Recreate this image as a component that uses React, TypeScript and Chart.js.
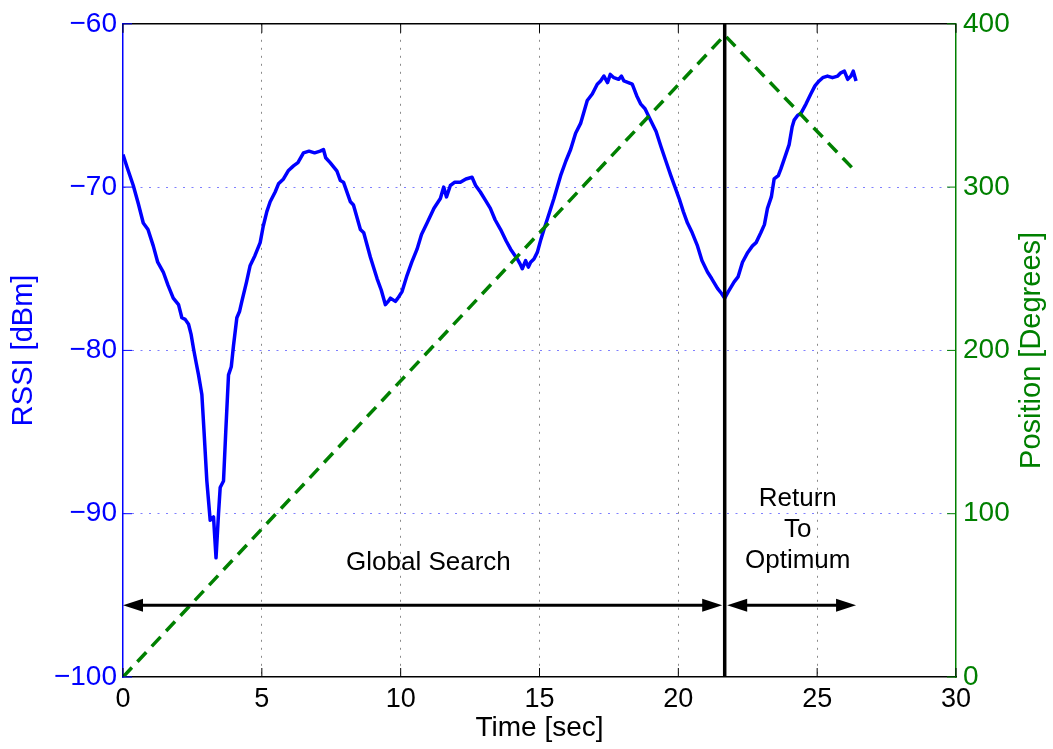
import React, { useEffect, useRef } from "react";
import { Chart, registerables } from "chart.js";

Chart.register(...registerables);

// ---------- data ----------
const timeSec = [
  0.0, 0.15, 0.37, 0.55, 0.73, 0.9, 1.09, 1.25, 1.45, 1.62, 1.81, 2.0, 2.12, 2.24, 2.36, 2.45, 2.54, 2.64, 2.72, 2.84,
  2.92, 3.02, 3.14, 3.26, 3.35, 3.44, 3.5, 3.62, 3.7, 3.8, 3.9, 3.98, 4.1, 4.2, 4.28, 4.45, 4.58, 4.75, 4.94, 5.05,
  5.18, 5.3, 5.48, 5.6, 5.78, 5.95, 6.14, 6.3, 6.5, 6.7, 6.9, 7.1, 7.22, 7.3, 7.46, 7.7, 7.83, 7.94, 8.19, 8.3,
  8.55, 8.67, 8.91, 9.15, 9.3, 9.45, 9.55, 9.63, 9.81, 9.9, 10.05, 10.23, 10.4, 10.59, 10.75, 10.95, 11.2, 11.43, 11.55, 11.65,
  11.79, 11.95, 12.15, 12.35, 12.57, 12.7, 12.87, 13.05, 13.23, 13.4, 13.6, 13.8, 13.96, 14.2, 14.3, 14.38, 14.5, 14.6, 14.68, 14.8,
  14.92, 15.05, 15.16, 15.35, 15.52, 15.76, 15.95, 16.12, 16.3, 16.48, 16.72, 16.9, 17.08, 17.2, 17.32, 17.45, 17.55, 17.68, 17.85, 17.95,
  18.04, 18.2, 18.34, 18.5, 18.64, 18.8, 19.0, 19.2, 19.37, 19.55, 19.73, 19.88, 20.03, 20.18, 20.33, 20.5, 20.69, 20.85, 21.05, 21.2,
  21.41, 21.55, 21.67, 21.8, 22.01, 22.15, 22.31, 22.5, 22.67, 22.8, 22.97, 23.1, 23.21, 23.35, 23.45, 23.6, 23.69, 23.85, 23.99, 24.1,
  24.17, 24.3, 24.41, 24.6, 24.77, 24.92, 25.07, 25.2, 25.37, 25.55, 25.74, 25.85, 25.98, 26.1, 26.22, 26.3, 26.4,
];
const rssiDbm = [
  -68.0, -68.8, -69.9, -71.0, -72.2, -72.6, -73.6, -74.6, -75.2, -76.0, -76.8, -77.2, -78.0, -78.1, -78.4, -79.0, -79.9, -80.8, -81.5, -82.7,
  -85.0, -88.0, -90.4, -90.2, -92.7, -90.0, -88.4, -88.0, -85.0, -81.5, -81.0, -79.7, -78.0, -77.6, -77.0, -75.8, -74.8, -74.2, -73.4, -72.4,
  -71.5, -70.9, -70.3, -69.8, -69.5, -69.0, -68.7, -68.5, -67.9, -67.8, -67.9, -67.8, -67.7, -68.2, -68.5, -69.0, -69.6, -69.7, -70.9, -71.1,
  -72.6, -72.8, -74.3, -75.6, -76.3, -77.2, -77.0, -76.8, -77.0, -76.8, -76.4, -75.4, -74.6, -73.8, -72.9, -72.2, -71.3, -70.7, -70.0, -70.6,
  -69.9, -69.7, -69.7, -69.5, -69.4, -69.9, -70.3, -70.8, -71.3, -72.0, -72.6, -73.3, -73.8, -74.4, -74.7, -75.0, -74.5, -74.9, -74.6, -74.4,
  -74.0, -73.2, -72.6, -71.6, -70.7, -69.3, -68.4, -67.7, -66.7, -66.1, -64.7, -64.3, -63.7, -63.5, -63.2, -63.6, -63.1, -63.3, -63.4, -63.2,
  -63.5, -63.6, -63.7, -64.4, -64.9, -65.2, -65.9, -66.6, -67.5, -68.4, -69.3, -70.0, -70.7, -71.5, -72.2, -72.8, -73.6, -74.5, -75.2, -75.6,
  -76.2, -76.5, -76.8, -76.4, -75.8, -75.5, -74.6, -74.0, -73.6, -73.4, -72.8, -72.3, -71.3, -70.6, -69.5, -69.3, -68.9, -68.1, -67.4, -66.3,
  -65.9, -65.6, -65.5, -64.9, -64.3, -63.8, -63.5, -63.3, -63.2, -63.3, -63.2, -63.0, -62.9, -63.4, -63.2, -62.9, -63.5,
];
const positionTime = [0, 21.67, 26.25];
const positionDeg = [0, 393, 312];

const switchTime = 21.67;
const arrowLevel = -95.6;
const arrowStarts = [0, 21.67];
const arrowEnds = [21.67, 26.4];
const noteTexts = ["Global Search", "Return", "To", "Optimum"];
const noteTimes = [11.0, 24.3, 24.3, 24.3];
const noteLevels = [-93.0, -89.1, -91.0, -92.9];

const FONT = "'Liberation Sans', Arial, Helvetica, sans-serif";
const BLUE = "#0000ff";
const GREEN = "#008000";

const fmtMinus = (v: number) => (v < 0 ? "\u2212" + Math.abs(v) : String(v));

const overlayPlugin = {
  id: "overlay",
  afterDatasetsDraw(chart: any) {
    const { ctx, chartArea: a, scales } = chart;
    const xs = scales.x;
    const ys = scales.y;
    ctx.save();
    // switch line
    const vx = xs.getPixelForValue(switchTime);
    ctx.strokeStyle = "#000";
    ctx.lineWidth = 3.5;
    ctx.beginPath();
    ctx.moveTo(vx, a.top);
    ctx.lineTo(vx, a.bottom);
    ctx.stroke();
    // arrows
    const ay = ys.getPixelForValue(arrowLevel);
    const head = (tip: number, dir: number) => {
      ctx.beginPath();
      ctx.moveTo(tip, ay);
      ctx.lineTo(tip + dir * 20, ay - 6.5);
      ctx.lineTo(tip + dir * 20, ay + 6.5);
      ctx.closePath();
      ctx.fill();
    };
    ctx.fillStyle = "#000";
    for (let i = 0; i < arrowStarts.length; i++) {
      const x0 = xs.getPixelForValue(arrowStarts[i]) + (i === 0 ? 0 : 2.5);
      const x1 = xs.getPixelForValue(arrowEnds[i]) - (i === 0 ? 2.5 : 0);
      ctx.lineWidth = 3;
      ctx.beginPath();
      ctx.moveTo(x0 + 10, ay);
      ctx.lineTo(x1 - 10, ay);
      ctx.stroke();
      head(x0, 1);
      head(x1, -1);
    }
    // notes
    ctx.font = `26px ${FONT}`;
    ctx.textAlign = "center";
    ctx.textBaseline = "middle";
    ctx.fillStyle = "#000";
    for (let i = 0; i < noteTexts.length; i++) {
      ctx.fillText(noteTexts[i], xs.getPixelForValue(noteTimes[i]), ys.getPixelForValue(noteLevels[i]));
    }
    ctx.restore();
  },
  afterDraw(chart: any) {
    const { ctx, chartArea: a, scales } = chart;
    const xs = scales.x;
    const ys = scales.y;
    const y2 = scales.y2;
    ctx.save();
    // top border
    ctx.strokeStyle = "#000";
    ctx.lineWidth = 1.5;
    ctx.beginPath();
    ctx.moveTo(a.left, a.top);
    ctx.lineTo(a.right, a.top);
    ctx.stroke();
    // inward ticks
    const L = 9;
    ctx.lineWidth = 1;
    ctx.strokeStyle = "#000";
    xs.ticks.forEach((t: any) => {
      const px = xs.getPixelForValue(t.value);
      ctx.beginPath();
      ctx.moveTo(px, a.bottom);
      ctx.lineTo(px, a.bottom - L);
      ctx.moveTo(px, a.top);
      ctx.lineTo(px, a.top + L);
      ctx.stroke();
    });
    ctx.strokeStyle = BLUE;
    ys.ticks.forEach((t: any) => {
      const py = ys.getPixelForValue(t.value);
      ctx.beginPath();
      ctx.moveTo(a.left, py);
      ctx.lineTo(a.left + L, py);
      ctx.stroke();
    });
    ctx.strokeStyle = GREEN;
    y2.ticks.forEach((t: any) => {
      const py = y2.getPixelForValue(t.value);
      ctx.beginPath();
      ctx.moveTo(a.right, py);
      ctx.lineTo(a.right - L, py);
      ctx.stroke();
    });
    // right axis title (reads bottom-to-top)
    ctx.translate(y2.right - 21, (a.top + a.bottom) / 2);
    ctx.rotate(-Math.PI / 2);
    ctx.font = `29px ${FONT}`;
    ctx.fillStyle = GREEN;
    ctx.textAlign = "center";
    ctx.textBaseline = "middle";
    ctx.fillText("Position [Degrees]", 0, 0);
    ctx.restore();
  },
};

export default function App() {
  const canvasRef = useRef<HTMLCanvasElement | null>(null);

  useEffect(() => {
    document.body.style.margin = "0";
    const canvas = canvasRef.current;
    if (!canvas) return;
    Chart.defaults.font.family = FONT;
    const chart = new Chart(canvas, {
      type: "line",
      data: {
        datasets: [
          {
            label: "Position",
            data: positionTime.map((t, i) => ({ x: t, y: positionDeg[i] })),
            yAxisID: "y2",
            borderColor: GREEN,
            borderWidth: 3.5,
            borderDash: [13, 8],
            pointRadius: 0,
            fill: false,
            tension: 0,
          },
          {
            label: "RSSI",
            data: timeSec.map((t, i) => ({ x: t, y: rssiDbm[i] })),
            yAxisID: "y",
            borderColor: BLUE,
            borderWidth: 3.5,
            pointRadius: 0,
            fill: false,
            tension: 0,
            borderJoinStyle: "round",
          },
        ],
      },
      options: {
        responsive: false,
        devicePixelRatio: 1,
        animation: false,
        events: [],
        layout: { padding: { top: 20, left: 0, right: 0, bottom: 0 } },
        plugins: { legend: { display: false }, tooltip: { enabled: false } },
        scales: {
          x: {
            type: "linear",
            min: 0,
            max: 30,
            ticks: {
              stepSize: 5,
              color: "#000",
              font: { size: 27 },
              padding: 6,
              maxRotation: 0,
            },
            grid: {
              drawTicks: false,
              lineWidth: 1,
              color: (c: any) => (c.tick && (c.tick.value === 0 || c.tick.value === 30) ? "rgba(0,0,0,0)" : "#8a8a8a"),
            },
            border: { display: true, color: "#000", width: 1.5, dash: [2, 6] },
            title: {
              display: true,
              text: "Time [sec]",
              color: "#000",
              font: { size: 28, lineHeight: 1.2 },
              padding: { top: 0, bottom: 4 },
            },
            afterFit: (s: any) => {
              s.height = 72;
            },
          },
          y: {
            type: "linear",
            position: "left",
            min: -100,
            max: -60,
            ticks: {
              stepSize: 10,
              color: BLUE,
              font: { size: 28 },
              padding: 6,
              callback: (v: any) => fmtMinus(Number(v)),
            },
            grid: {
              drawTicks: false,
              lineWidth: 1,
              color: (c: any) => (c.tick && (c.tick.value === -100 || c.tick.value === -60) ? "rgba(0,0,0,0)" : "#7f7fff"),
            },
            border: { display: true, color: BLUE, width: 1.5, dash: [2, 6.5] },
            title: {
              display: true,
              text: "RSSI [dBm]",
              color: BLUE,
              font: { size: 29, lineHeight: 1.2 },
              padding: { top: 7, bottom: 0 },
            },
            afterFit: (s: any) => {
              s.width = 123;
            },
          },
          y2: {
            type: "linear",
            position: "right",
            min: 0,
            max: 400,
            ticks: {
              stepSize: 100,
              color: GREEN,
              font: { size: 28 },
              padding: 7,
            },
            grid: { drawOnChartArea: false, drawTicks: false },
            border: { display: true, color: GREEN, width: 1.5 },
            afterFit: (s: any) => {
              s.width = 97;
            },
          },
        },
      },
      plugins: [overlayPlugin],
    });
    return () => chart.destroy();
  }, []);

  return (
    <div style={{ position: "absolute", left: 0, top: 0, width: 1053, height: 749, background: "#fff" }}>
      <canvas ref={canvasRef} width={1053} height={749} />
    </div>
  );
}
